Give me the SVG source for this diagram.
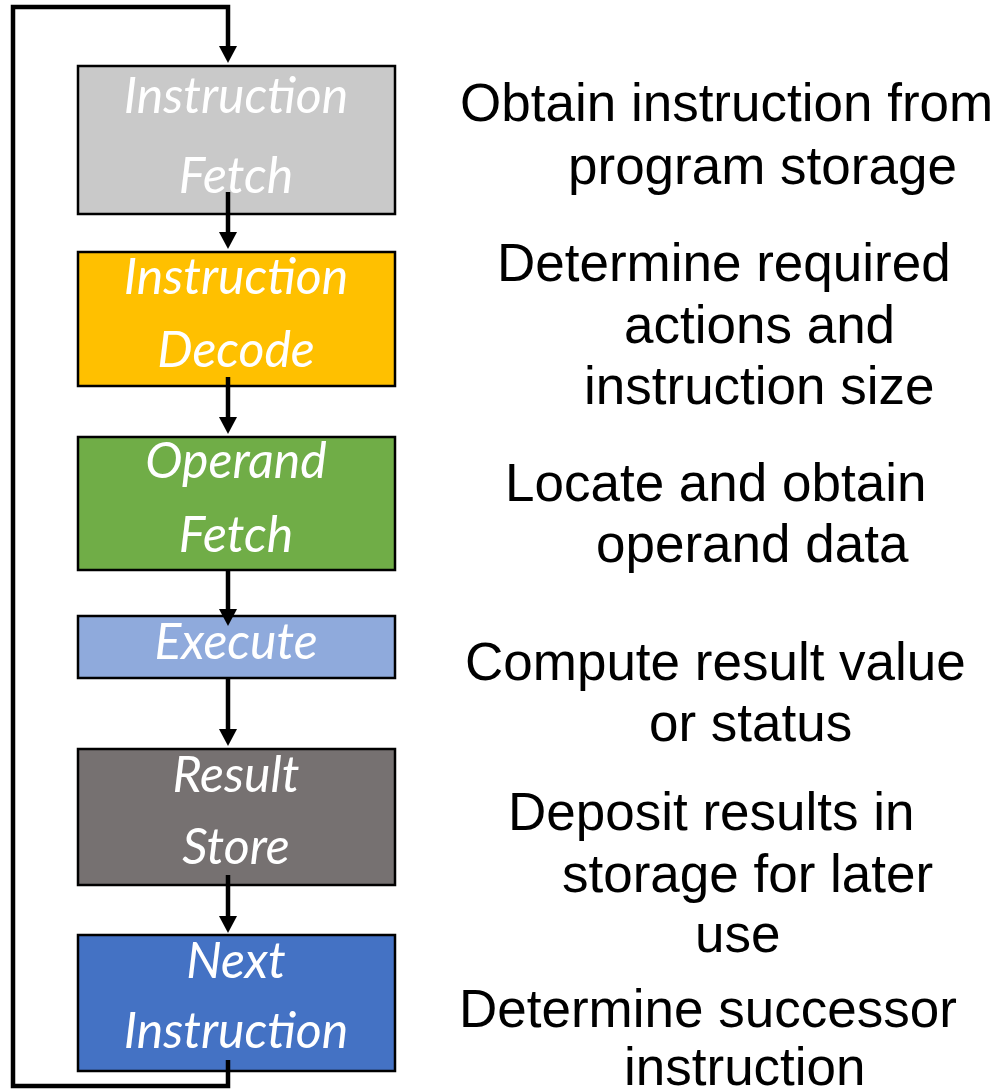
<svg xmlns="http://www.w3.org/2000/svg" width="999" height="1089" viewBox="0 0 999 1089">
<style>
.box{stroke:#000;stroke-width:2.5}
.lbl{font-family:Lato,"Open Sans","Liberation Sans",sans-serif;font-style:italic;font-size:50px;fill:#fff;text-anchor:middle}
.desc{font-family:"Liberation Sans",Arial,sans-serif;font-size:53px;fill:#000}
.conn{fill:none;stroke:#000;stroke-width:4.5}
</style>
<defs>
<marker id="ah" markerUnits="userSpaceOnUse" viewBox="0 0 17 18" markerWidth="17" markerHeight="18" refX="1" refY="9" orient="auto">
<path d="M0,0 L17,9 L0,18 Z" fill="#000"/>
</marker>
</defs>
<rect width="999" height="1089" fill="#fff"/>
<g id="n1">
<rect class="box" x="78" y="66" width="317" height="148" fill="#C9C9C9"/>
<text class="lbl" x="236" y="113">Instruction</text>
<text class="lbl" x="236" y="193">Fetch</text>
</g>
<g id="n2">
<rect class="box" x="78" y="252" width="317" height="134" fill="#FFC000"/>
<text class="lbl" x="236" y="294">Instruction</text>
<text class="lbl" x="236" y="367">Decode</text>
</g>
<g id="n3">
<rect class="box" x="78" y="437" width="317" height="133" fill="#70AD47"/>
<text class="lbl" x="236" y="478">Operand</text>
<text class="lbl" x="236" y="552">Fetch</text>
</g>
<g id="n4">
<rect class="box" x="78" y="616" width="317" height="62" fill="#8FAADC"/>
<text class="lbl" x="236" y="659">Execute</text>
</g>
<g id="n5">
<rect class="box" x="78" y="749" width="317" height="136" fill="#767171"/>
<text class="lbl" x="236" y="792">Result</text>
<text class="lbl" x="236" y="864">Store</text>
</g>
<g id="n6">
<rect class="box" x="78" y="935" width="317" height="136" fill="#4472C4"/>
<text class="lbl" x="236" y="978">Next</text>
<text class="lbl" x="236" y="1048">Instruction</text>
</g>
<g id="connectors">
<path class="conn" d="M228,192 V233" marker-end="url(#ah)"/>
<path class="conn" d="M228,377 V418" marker-end="url(#ah)"/>
<path class="conn" d="M228,570 V610" marker-end="url(#ah)"/>
<path class="conn" d="M228,678 V730" marker-end="url(#ah)"/>
<path class="conn" d="M228,875 V917" marker-end="url(#ah)"/>
<path class="conn" d="M228,1060 V1086 H13 V7 H228 V47" marker-end="url(#ah)"/>
</g>
<g id="descriptions">
<text class="desc" x="460" y="121">Obtain instruction from</text>
<text class="desc" x="568" y="184">program storage</text>
<text class="desc" x="497" y="281">Determine required</text>
<text class="desc" x="624" y="343">actions and</text>
<text class="desc" x="584" y="404">instruction size</text>
<text class="desc" x="505" y="501">Locate and obtain</text>
<text class="desc" x="596" y="562">operand data</text>
<text class="desc" x="465" y="680">Compute result value</text>
<text class="desc" x="649" y="741">or status</text>
<text class="desc" x="508" y="830">Deposit results in</text>
<text class="desc" x="562" y="892">storage for later</text>
<text class="desc" x="695" y="952">use</text>
<text class="desc" x="459" y="1027">Determine successor</text>
<text class="desc" x="624" y="1085">instruction</text>
</g>
</svg>
